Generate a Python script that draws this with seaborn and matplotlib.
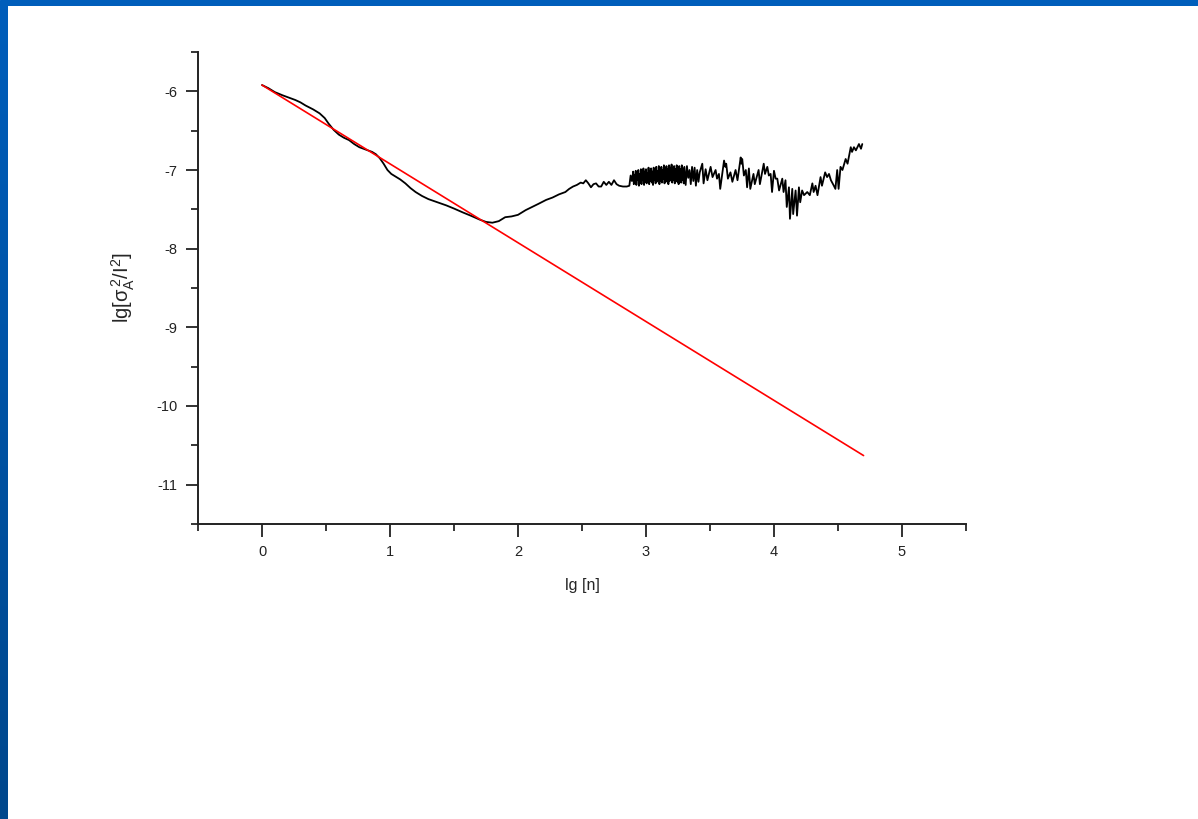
import numpy as np
import pandas as pd
import matplotlib
matplotlib.use("Agg")
import matplotlib.pyplot as plt
import seaborn as sns


# measured curve: lg[n] vs lg[sigma_A^2 / I^2]
lg_n = [
    0.00, 0.05, 0.10, 0.16, 0.21, 0.26, 0.30, 0.34, 0.40, 0.45,
    0.49, 0.52, 0.56, 0.60, 0.64, 0.68, 0.72, 0.76, 0.81, 0.86,
    0.89, 0.92, 0.95, 0.98, 1.01, 1.05, 1.08, 1.12, 1.16, 1.20,
    1.25, 1.30, 1.37, 1.44, 1.50, 1.57, 1.63, 1.70, 1.75, 1.80,
    1.85, 1.90, 1.95, 2.00, 2.06, 2.11, 2.16, 2.22, 2.27, 2.32,
    2.37, 2.40, 2.43, 2.46, 2.49, 2.51, 2.53, 2.55, 2.57, 2.59,
    2.61, 2.63, 2.65, 2.67, 2.69, 2.71, 2.73, 2.75, 2.77, 2.79,
    2.82, 2.85, 2.87, 2.88, 2.89,
    2.900, 2.905, 2.910, 2.915, 2.920, 2.925, 2.930, 2.935, 2.940, 2.945,
    2.950, 2.955, 2.960, 2.965, 2.970, 2.975, 2.980, 2.985, 2.990, 2.995,
    3.000, 3.005, 3.010, 3.015, 3.020, 3.025, 3.030, 3.035, 3.040, 3.045,
    3.050, 3.055, 3.060, 3.065, 3.070, 3.075, 3.080, 3.085, 3.090, 3.095,
    3.100, 3.105, 3.110, 3.115, 3.120, 3.125, 3.130, 3.135, 3.140, 3.145,
    3.150, 3.155, 3.160, 3.165, 3.170, 3.175, 3.180, 3.185, 3.190, 3.195,
    3.200, 3.205, 3.210, 3.215, 3.220, 3.225, 3.230, 3.235, 3.240, 3.245,
    3.250, 3.255, 3.260, 3.265, 3.270, 3.275, 3.280, 3.285, 3.290, 3.295,
    3.300, 3.310, 3.320, 3.330, 3.340, 3.350, 3.360, 3.370, 3.380, 3.390,
    3.400, 3.410, 3.420,
    3.440, 3.450, 3.466, 3.480, 3.505, 3.520, 3.544, 3.555, 3.570, 3.580,
    3.610, 3.620, 3.627, 3.640, 3.660, 3.675, 3.700, 3.715, 3.740, 3.745,
    3.752, 3.765, 3.780, 3.790, 3.804, 3.815, 3.840, 3.850, 3.880, 3.890,
    3.920, 3.930, 3.948, 3.960, 3.974, 3.985, 4.000, 4.013, 4.026, 4.040,
    4.065, 4.075, 4.090, 4.100, 4.117, 4.125, 4.143, 4.150, 4.169, 4.180,
    4.195, 4.205, 4.220, 4.235, 4.260, 4.280, 4.300, 4.310, 4.325, 4.340,
    4.364, 4.375, 4.400, 4.415, 4.430, 4.445, 4.468, 4.480, 4.494, 4.505,
    4.520, 4.535, 4.560, 4.575, 4.600, 4.610, 4.625, 4.640, 4.664, 4.680,
    4.690,
]
lg_var = [
    -5.92, -5.96, -6.01, -6.05, -6.08, -6.11, -6.14, -6.18, -6.23, -6.28,
    -6.34, -6.41, -6.49, -6.55, -6.59, -6.62, -6.67, -6.71, -6.74, -6.77,
    -6.80, -6.85, -6.92, -7.00, -7.05, -7.09, -7.12, -7.17, -7.23, -7.28,
    -7.33, -7.37, -7.41, -7.45, -7.49, -7.54, -7.58, -7.63, -7.66, -7.67,
    -7.65, -7.60, -7.59, -7.57, -7.51, -7.47, -7.43, -7.38, -7.35, -7.31,
    -7.28, -7.24, -7.21, -7.19, -7.16, -7.17, -7.13, -7.17, -7.22, -7.18,
    -7.17, -7.21, -7.21, -7.15, -7.19, -7.15, -7.19, -7.13, -7.18, -7.20,
    -7.21, -7.21, -7.20, -7.07, -7.14,
    -7.02, -7.18, -7.06, -7.15, -7.01, -7.19, -7.04, -7.12, -7.00, -7.20,
    -7.05, -7.16, -6.99, -7.18, -7.03, -7.13, -6.98, -7.19, -7.02, -7.15,
    -6.99, -7.17, -7.04, -7.12, -6.97, -7.18, -7.01, -7.14, -6.98, -7.16,
    -7.02, -7.19, -6.97, -7.13, -7.00, -7.17, -6.96, -7.15, -7.01, -7.12,
    -6.95, -7.18, -6.99, -7.14, -6.96, -7.16, -7.00, -7.11, -6.94, -7.17,
    -6.98, -7.15, -6.95, -7.12, -6.99, -7.18, -6.94, -7.14, -6.97, -7.10,
    -6.93, -7.16, -6.98, -7.13, -6.95, -7.17, -6.99, -7.12, -6.94, -7.15,
    -6.97, -7.18, -6.95, -7.11, -6.99, -7.16, -6.94, -7.13, -6.98, -7.17,
    -6.96, -7.19, -6.95, -7.10, -7.00, -7.18, -6.96, -7.14, -6.97, -7.20,
    -7.00, -7.15, -7.03,
    -6.92, -7.17, -6.99, -7.13, -6.96, -7.09, -7.00, -7.11, -7.05, -7.24,
    -6.88, -6.96, -6.92, -7.11, -7.03, -7.15, -7.00, -7.13, -6.84, -6.92,
    -6.86, -7.07, -7.00, -7.22, -6.98, -7.24, -7.05, -7.18, -7.00, -7.18,
    -6.92, -7.05, -6.96, -7.07, -7.05, -7.28, -7.01, -7.11, -7.11, -7.26,
    -7.11, -7.28, -7.13, -7.47, -7.22, -7.62, -7.24, -7.56, -7.26, -7.58,
    -7.22, -7.41, -7.26, -7.32, -7.28, -7.32, -7.17, -7.28, -7.20, -7.32,
    -7.09, -7.20, -7.03, -7.09, -7.05, -7.13, -7.20, -7.24, -7.00, -7.24,
    -6.96, -7.00, -6.86, -6.92, -6.71, -6.77, -6.71, -6.75, -6.67, -6.73,
    -6.67,
]

# fitted straight line
fit_n = [0.0, 4.7]
fit_var = [-5.92, -10.63]

x_ticks = [0, 1, 2, 3, 4, 5]
y_ticks = [-11, -10, -9, -8, -7, -6]

curve = pd.DataFrame({"lg_n": lg_n, "lg_var": lg_var})
fit = pd.DataFrame({"lg_n": fit_n, "lg_var": fit_var})

sns.set_theme(style="ticks")
plt.rcParams["font.family"] = ["Liberation Sans", "DejaVu Sans"]
plt.rcParams["axes.unicode_minus"] = False
plt.rcParams["mathtext.fontset"] = "custom"
plt.rcParams["mathtext.rm"] = "Liberation Sans"
plt.rcParams["mathtext.it"] = "Liberation Sans"

fig = plt.figure(figsize=(11.98, 8.19), dpi=100)
fig.patch.set_facecolor("white")

# blue slide frame (top bar + left gradient bar)
frame_top = fig.add_axes([0, 1 - 6 / 819, 1, 6 / 819])
frame_top.set_axis_off()
frame_top.add_patch(plt.Rectangle((0, 0), 1, 1, color="#005EBB",
                                  transform=frame_top.transAxes))
frame_left = fig.add_axes([0, 0, 8 / 1198, 1 - 6 / 819])
frame_left.set_axis_off()
grad = np.linspace(0, 1, 256).reshape(-1, 1)
cmap = matplotlib.colors.LinearSegmentedColormap.from_list(
    "frame", ["#00478C", "#005EBB"])
frame_left.imshow(grad, aspect="auto", cmap=cmap, origin="lower")

ax = fig.add_axes([0.1653, 0.3602, 0.641, 0.5763])

sns.lineplot(data=curve, x="lg_n", y="lg_var", ax=ax, color="black",
             linewidth=1.3, sort=False, estimator=None)
sns.lineplot(data=fit, x="lg_n", y="lg_var", ax=ax, color="#FF0000",
             linewidth=1.2, sort=False, estimator=None)

ax.set_xlim(-0.5, 5.5)
ax.set_ylim(-11.5, -5.5)
ax.set_xticks(x_ticks)
ax.set_yticks(y_ticks)
ax.set_xticks([-0.5, 0.5, 1.5, 2.5, 3.5, 4.5, 5.5], minor=True)
ax.set_yticks([-11.5, -10.5, -9.5, -8.5, -7.5, -6.5, -5.5], minor=True)
ax.set_xticklabels([str(t) for t in x_ticks])
ax.set_yticklabels([str(t) for t in y_ticks])

ax.tick_params(which="major", direction="out", length=9, width=1.3,
               labelsize=10.5, pad=6, colors="#222222")
ax.tick_params(which="minor", direction="out", length=5, width=1.3)

for side in ["top", "right"]:
    ax.spines[side].set_visible(False)
for side in ["left", "bottom"]:
    ax.spines[side].set_linewidth(1.4)
    ax.spines[side].set_color("#222222")

ax.set_xlabel("lg [n]", fontsize=11.5, labelpad=14)
ax.set_ylabel(r"lg[$\sigma_{A}^{\,2}$/I$^{2}$]", fontsize=14.5, labelpad=14)
ax.set_facecolor("white")

plt.savefig("out.png", dpi=100)
